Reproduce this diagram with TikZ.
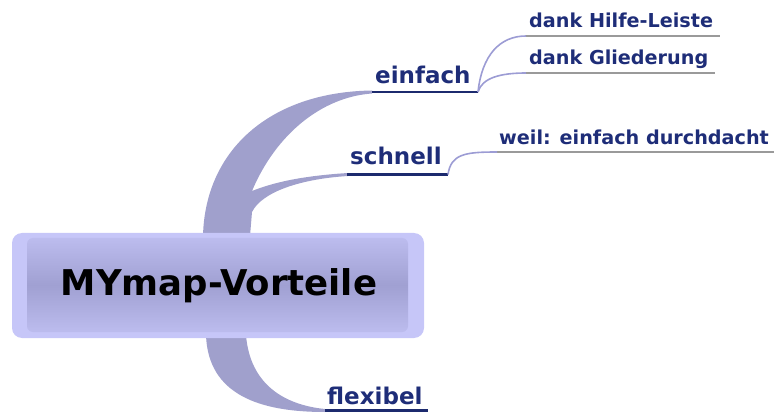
\documentclass[tikz,border=0pt]{standalone}
\usepackage{fontspec}
\setmainfont{DejaVu Sans}
\begin{document}
\begin{tikzpicture}[x=1pt,y=-1pt,
  mainlbl/.style={font=\bfseries\fontsize{23}{26}\selectfont,text=txtnavy,anchor=base west,inner sep=0pt},
  sublbl/.style={font=\bfseries\fontsize{19.2}{22}\selectfont,text=txtnavy,anchor=base west,inner sep=0pt},
  mainline/.style={draw=linenavy,line width=2.6pt},
  subline/.style={draw=linegrey,line width=2.2pt},
  subconn/.style={draw=conncol,line width=1.6pt},
  branch/.style={fill=branchcol,draw=none}]
\definecolor{txtnavy}{HTML}{1E2D78}
\definecolor{linenavy}{HTML}{1C2A6E}
\definecolor{linegrey}{HTML}{9A9A9A}
\definecolor{conncol}{HTML}{9C9CD4}
\definecolor{branchcol}{HTML}{A0A0CC}
\definecolor{boxout}{HTML}{C6C6F8}
\definecolor{boxmid}{HTML}{A0A0D2}
\definecolor{boxtop}{HTML}{BCBCEE}
\useasboundingbox (0,0) rectangle (774,414);
% branches
\fill[branch] (203,236) .. controls (205,150) and (270,92) .. (372,90.5) -- (372,93.5)
  .. controls (322,97) and (276,134) .. (252,191)
  .. controls (272,183) and (300,176) .. (348,173) -- (348,176)
  .. controls (300,179) and (262,192) .. (252,212) -- (250,236) -- cycle;
\fill[branch] (206,335) .. controls (208,395) and (260,412) .. (325,412) -- (325,409) .. controls (285,405) and (250,385) .. (246,335) -- cycle;
% central box
\fill[boxout,rounded corners=10pt] (12,233) rectangle (424,338);
\shade[rounded corners=6pt,top color=boxtop,bottom color=boxtop,middle color=boxmid] (27,238) rectangle (408,332);
\node[font=\bfseries\fontsize{35.5}{40}\selectfont,text=black] (center) at (219,286) {MYmap-Vorteile};
% main labels
\node[mainlbl] (einfach) at (375,84) {einfach};
\node[mainlbl] (schnell) at (350,165) {schnell};
\node[mainlbl] (flexibel) at (327,404) {flexibel};
\coordinate (e1) at (372,92); \coordinate (e2) at (478,92);
\coordinate (s1) at (347,174.5); \coordinate (s2) at (448,174.5);
\coordinate (f1) at (325,410.5); \coordinate (f2) at (428,410.5);
\draw[mainline] (e1) -- (e2);
\draw[mainline] (s1) -- (s2);
\draw[mainline] (f1) -- (f2);
% sub labels
\node[sublbl] (hilfe) at (529,28) {dank Hilfe-Leiste};
\node[sublbl] (glied) at (529,65) {dank Gliederung};
\node[sublbl] (weil) at (499,145) {weil: einfach durchdacht};
\coordinate (h1) at (526,36); \coordinate (h2) at (720,36);
\coordinate (g1) at (526,73); \coordinate (g2) at (715,73);
\coordinate (w1) at (497,152); \coordinate (w2) at (774,152);
\draw[subline] (h1) -- (h2);
\draw[subline] (g1) -- (g2);
\draw[subline] (w1) -- (w2);
% sub connectors
\draw[subconn] (e2) .. controls (482,55) and (500,36) .. (h1);
\draw[subconn] (e2) .. controls (482,78) and (500,73) .. (g1);
\draw[subconn] (s2) .. controls (451,154) and (465,152) .. (w1);
\end{tikzpicture}
\end{document}
